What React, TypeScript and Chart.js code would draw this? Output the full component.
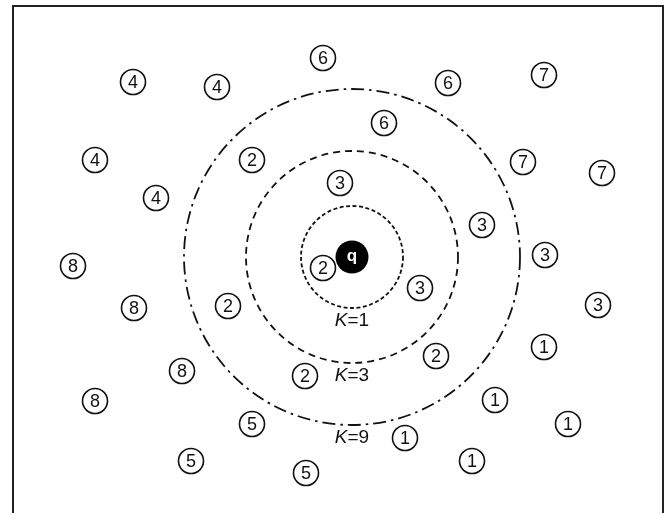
import React, { useEffect, useRef } from "react";
import { Chart, registerables } from "chart.js";

Chart.register(...registerables);

// Object positions (units: offset from query point q, y up)
const objLabels = [
  "1", "1", "1", "1", "1",
  "2", "2", "2", "2", "2",
  "3", "3", "3", "3", "3",
  "4", "4", "4", "4",
  "5", "5", "5",
  "6", "6", "6",
  "7", "7", "7",
  "8", "8", "8", "8",
];
const objX = [
  192, 143, 216, 53, 120,
  -100, -29, -124, -47, 84,
  -12, 130, 193, 68, 246,
  -219, -135, -257, -196,
  -100, -161, -46,
  -29, 96, 32,
  192, 171, 250,
  -279, -218, -170, -257,
];
const objY = [
  -90, -143, -167, -181, -204,
  97, -11, -49, -119, -99,
  74, 32, 2, -31, -48,
  175, 170, 97, 59,
  -167, -204, -216,
  199, 174, 134,
  182, 95, 84,
  -9, -51, -114, -144,
];
const queryLabel = "q";
const queryX = [0];
const queryY = [0];
const ringRadii = [51, 106, 168];
const ringLabels = ["K=1", "K=3", "K=9"];

const FONT = "'Liberation Sans', Arial, sans-serif";

export default function App() {
  const ref = useRef<HTMLCanvasElement | null>(null);
  useEffect(() => {
    const canvas = ref.current!;
    const ringPlugin = {
      id: "rings",
      beforeDatasetsDraw(chart: any) {
        const { ctx, scales, chartArea } = chart;
        const xs = scales.x, ys = scales.y;
        const cx = xs.getPixelForValue(queryX[0]);
        const cy = ys.getPixelForValue(queryY[0]);
        const dashes = [[4, 2.5], [7, 5], [13, 5, 2.5, 5]];
        ctx.save();
        ctx.strokeStyle = "#111";
        ctx.lineWidth = 1.8;
        ringRadii.forEach((r, i) => {
          const rp = xs.getPixelForValue(r) - xs.getPixelForValue(0);
          ctx.setLineDash(dashes[i]);
          ctx.beginPath();
          ctx.arc(cx, cy, rp, 0, Math.PI * 2);
          ctx.stroke();
          const ty = cy + rp + 13;
          ctx.setLineDash([]);
          ctx.fillStyle = "#111";
          ctx.textBaseline = "middle";
          const kFont = "italic 19px " + FONT;
          const nFont = "19px " + FONT;
          const rest = ringLabels[i].slice(1);
          ctx.font = kFont;
          const kw = ctx.measureText("K").width;
          ctx.font = nFont;
          const rw = ctx.measureText(rest).width;
          const sx = cx - (kw + rw) / 2;
          ctx.font = kFont;
          ctx.textAlign = "left";
          ctx.fillText("K", sx, ty);
          ctx.font = nFont;
          ctx.fillText(rest, sx + kw, ty);
        });
        ctx.setLineDash([]);
        ctx.lineWidth = 2;
        ctx.strokeStyle = "#222";
        ctx.beginPath();
        ctx.moveTo(chartArea.left, chartArea.bottom + 5);
        ctx.lineTo(chartArea.left, chartArea.top);
        ctx.lineTo(chartArea.right, chartArea.top);
        ctx.lineTo(chartArea.right, chartArea.bottom + 5);
        ctx.stroke();
        ctx.restore();
      },
      afterDatasetsDraw(chart: any) {
        const { ctx } = chart;
        ctx.save();
        ctx.textAlign = "center";
        ctx.textBaseline = "middle";
        const m0 = chart.getDatasetMeta(0);
        ctx.fillStyle = "#111";
        ctx.font = "18px " + FONT;
        m0.data.forEach((el: any, i: number) => {
          ctx.fillText(objLabels[i], el.x, el.y + 1);
        });
        const m1 = chart.getDatasetMeta(1);
        ctx.fillStyle = "#fff";
        ctx.font = "bold 17px " + FONT;
        m1.data.forEach((el: any) => {
          ctx.fillText(queryLabel, el.x, el.y - 1);
        });
        ctx.restore();
      },
    };
    const chart = new Chart(canvas, {
      type: "scatter",
      data: {
        datasets: [
          {
            data: objX.map((x, i) => ({ x, y: objY[i] })),
            pointRadius: 12.5,
            pointBorderWidth: 1.6,
            pointBorderColor: "#111",
            pointBackgroundColor: "#fff",
            pointStyle: "circle",
            clip: false,
          },
          {
            data: queryX.map((x, i) => ({ x, y: queryY[i] })),
            pointRadius: 16.5,
            pointBorderWidth: 0,
            pointBackgroundColor: "#000",
            pointBorderColor: "#000",
            clip: false,
          },
        ],
      },
      options: {
        responsive: false,
        animation: false,
        layout: { autoPadding: false, padding: { left: 13, top: 6, right: 7, bottom: 0 } },
        plugins: { legend: { display: false }, tooltip: { enabled: false } },
        scales: {
          x: { type: "linear", min: -339, max: 311, display: false },
          y: { type: "linear", min: -256, max: 251, display: false },
        },
      },
      plugins: [ringPlugin],
    });
    return () => chart.destroy();
  }, []);
  return (
    <div style={{ position: "fixed", left: 0, top: 0, width: 670, height: 513, background: "#fff", overflow: "hidden" }}>
      <canvas ref={ref} width={670} height={513} style={{ display: "block" }} />
    </div>
  );
}
